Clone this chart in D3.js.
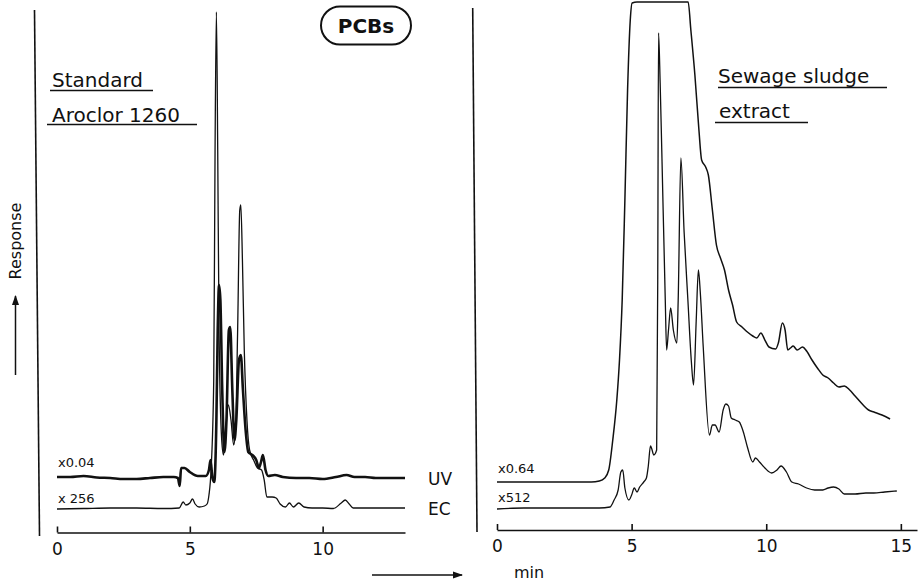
<!DOCTYPE html>
<html>
<head>
<meta charset="utf-8">
<title>PCBs</title>
<script src="https://d3js.org/d3.v7.min.js"></script>
<style>
  body { margin: 0; background: #fff; }
  text { font-family: "DejaVu Sans", sans-serif; fill: #111; }
</style>
</head>
<body>
<svg width="918" height="586"></svg>
<script>
// [retention time (min), response]
var stdUV = [[0,55],[0.5,55],[1,56],[1.5,54.5],[2,54],[2.5,53],[3,53],[3.5,54],[4,55],[4.4,55],[4.55,54],
  [4.62,46],[4.67,64],[4.8,64],[5,60],[5.3,56],[5.6,56],[5.72,62],[5.78,72],[5.85,54],[5.92,50],
  [6,112],[6.05,202],[6.1,247],[6.15,232],[6.22,142],[6.3,80],[6.38,112],[6.47,202],[6.52,205],
  [6.6,142],[6.68,92],[6.75,112],[6.85,172],[6.92,177],[7,142],[7.1,102],[7.2,80],[7.35,77],
  [7.5,72],[7.6,64],[7.68,70],[7.75,77],[7.85,62],[7.95,56],[8.2,57],[8.5,55],[9,54],[9.5,54],
  [10,53],[10.5,55],[10.9,57],[11.2,55],[11.6,55],[12,54],[12.5,54],[13.1,54]];

var stdEC = [[0,23],[1,23.5],[2,24],[3,24],[4,23.5],[4.6,24],[4.75,30],[4.85,27],[5,29],[5.1,33],
  [5.2,28],[5.35,25],[5.55,26],[5.65,28],[5.72,37],[5.8,62],[5.9,152],[5.95,382],[6,520],[6.05,382],
  [6.1,202],[6.2,92],[6.27,77],[6.35,102],[6.45,127],[6.55,112],[6.65,87],[6.72,102],[6.8,202],
  [6.88,322],[6.92,327],[6.98,272],[7.05,182],[7.15,112],[7.25,82],[7.4,72],[7.55,64],[7.7,62],
  [7.8,52],[7.9,35],[8.1,35],[8.25,34],[8.4,28],[8.6,25],[8.75,29],[8.9,25],[9.1,29],[9.3,25],
  [9.6,24],[10,24],[10.4,23.5],[10.7,29],[10.85,32],[11,28],[11.15,24],[12,24],[13.1,24]];

var sludgeUV = [[0,50],[1,50],[2,50],[3,50],[3.5,50],[3.8,51],[4,54],[4.15,62],[4.3,92],[4.45,132],
  [4.55,172],[4.65,232],[4.75,332],[4.85,442],[4.95,512],[5.02,529],[5.2,530],[7,530],[7.1,530],
  [7.2,502],[7.35,457],[7.5,402],[7.6,372],[7.75,365],[7.85,357],[8,322],[8.15,287],[8.3,274],
  [8.45,262],[8.6,242],[8.75,227],[8.9,210],[9.1,205],[9.3,200],[9.5,196],[9.65,194],[9.8,199],
  [9.95,192],[10.1,185],[10.35,183],[10.45,189],[10.6,209],[10.7,202],[10.8,182],[10.9,184],
  [11,186],[11.15,182],[11.35,185],[11.5,181],[11.7,172],[11.9,164],[12.1,157],[12.3,154],
  [12.5,149],[12.7,145],[12.9,146],[13.1,142],[13.3,136],[13.6,127],[13.8,122],[14,120],
  [14.3,117],[14.6,113]];

var sludgeEC = [[0,23],[1,24],[2,24],[3,24],[3.8,24],[4.2,25],[4.35,32],[4.5,42],[4.6,60],[4.67,62],
  [4.75,44],[4.9,32],[5,37],[5.1,44],[5.2,40],[5.3,45],[5.45,50],[5.55,54],[5.62,66],[5.7,86],
  [5.75,83],[5.82,77],[5.93,82],[5.97,250],[6,499],[6.06,449],[6.12,382],[6.25,232],[6.3,182],
  [6.37,202],[6.45,224],[6.55,202],[6.68,189],[6.73,232],[6.83,374],[6.95,300],[7.09,232],
  [7.22,170],[7.3,147],[7.4,212],[7.48,262],[7.55,240],[7.66,185],[7.89,97],[8,107],[8.1,107],
  [8.25,100],[8.4,122],[8.5,128],[8.6,126],[8.7,114],[8.85,112],[9,110],[9.15,100],[9.3,85],
  [9.5,70],[9.6,74],[9.75,70],[9.95,64],[10.2,59],[10.4,62],[10.55,66],[10.75,60],[10.95,50],
  [11.2,48],[11.5,44],[11.8,42],[12.1,42],[12.3,44],[12.5,45],[12.7,43],[12.9,38],[13.3,38],
  [13.7,39],[14,39],[14.4,40],[14.85,41]];

var stdTicks = [0, 5, 10];
var sludgeTicks = [0, 5, 10, 15];
var detectors = ["UV", "EC"];
var stdFactors = ["x0.04", "x 256"];
var sludgeFactors = ["x0.64", "x512"];

var svg = d3.select("svg");
var ink = "#111";

var defs = svg.append("defs");
defs.append("marker")
    .attr("id", "arrow")
    .attr("viewBox", "0 0 10 10")
    .attr("refX", 9).attr("refY", 5)
    .attr("markerWidth", 7).attr("markerHeight", 7)
    .attr("orient", "auto")
  .append("path")
    .attr("d", "M0,1.5L10,5L0,8.5Z")
    .attr("fill", ink);

var y = d3.scaleLinear().domain([0, 530]).range([532, 2]);

var xStd = d3.scaleLinear().domain([0, 13.1]).range([57, 405]);
var xSludge = d3.scaleLinear().domain([0, 15.6]).range([497, 917]);

function drawPanel(x, ticks, axisY, frame, traces) {
  var g = svg.append("g");

  // frame line on the left of the panel
  g.append("line")
      .attr("x1", frame[0]).attr("y1", frame[1])
      .attr("x2", frame[2]).attr("y2", frame[3])
      .attr("stroke", ink).attr("stroke-width", 1.6);

  var axis = g.append("g")
      .attr("transform", "translate(0," + axisY + ")")
      .call(d3.axisBottom(x).tickValues(ticks).tickSizeInner(-6).tickSizeOuter(0).tickPadding(10));
  axis.select(".domain").attr("stroke", ink).attr("stroke-width", 1.6);
  axis.selectAll(".tick line").attr("stroke", ink).attr("stroke-width", 1.6);
  axis.selectAll(".tick text")
      .attr("font-family", "DejaVu Sans, sans-serif")
      .attr("font-size", 17)
      .attr("fill", ink);

  traces.forEach(function(t) {
    var line = d3.line()
        .x(function(d) { return x(d[0]); })
        .y(function(d) { return y(d[1]); })
        .curve(d3.curveMonotoneX);
    g.append("path")
        .datum(t.data)
        .attr("fill", "none")
        .attr("stroke", ink)
        .attr("stroke-width", t.width)
        .attr("stroke-linejoin", "round")
        .attr("d", line);

    g.append("text")
        .attr("x", x(0) + 1)
        .attr("y", t.labelY)
        .attr("font-size", 13)
        .text(t.factor);
  });
  return g;
}

drawPanel(xStd, stdTicks, 532.5, [34.5, 10, 39.5, 536], [
  {data: stdUV, width: 2.6, factor: stdFactors[0], labelY: 467},
  {data: stdEC, width: 1.3, factor: stdFactors[1], labelY: 503}
]);

drawPanel(xSludge, sludgeTicks, 530, [472.7, 8, 477, 532], [
  {data: sludgeUV, width: 1.5, factor: sludgeFactors[0], labelY: 473},
  {data: sludgeEC, width: 1.3, factor: sludgeFactors[1], labelY: 502}
]);

// detector names at the end of the standard traces
svg.selectAll(".det")
  .data(detectors)
  .enter().append("text")
    .attr("class", "det")
    .attr("x", 428)
    .attr("y", function(d, i) { return i === 0 ? 485 : 515; })
    .attr("font-size", 17)
    .text(function(d) { return d; });

// underlined headings
function heading(str, x, yBase, u0, u1, uy) {
  svg.append("text")
      .attr("x", x).attr("y", yBase)
      .attr("font-size", 20)
      .text(str);
  svg.append("line")
      .attr("x1", u0).attr("x2", u1)
      .attr("y1", uy).attr("y2", uy)
      .attr("stroke", ink).attr("stroke-width", 1.5);
}
heading("Standard", 52, 87, 50, 153, 90.5);
heading("Aroclor 1260", 52, 122, 47, 197, 124.5);
heading("Sewage sludge", 718, 83, 718, 887, 87.5);
heading("extract", 719, 118, 715, 808, 122.5);

// PCBs badge
svg.append("rect")
    .attr("x", 321).attr("y", 6.5)
    .attr("width", 90).attr("height", 38)
    .attr("rx", 19)
    .attr("fill", "none")
    .attr("stroke", ink).attr("stroke-width", 2);
svg.append("text")
    .attr("x", 366).attr("y", 33)
    .attr("text-anchor", "middle")
    .attr("font-size", 20)
    .attr("font-weight", "bold")
    .text("PCBs");

// y label with arrow
svg.append("text")
    .attr("transform", "translate(21,241) rotate(-90)")
    .attr("text-anchor", "middle")
    .attr("font-size", 16)
    .text("Response");
svg.append("line")
    .attr("x1", 15.5).attr("y1", 375)
    .attr("x2", 15.5).attr("y2", 296)
    .attr("stroke", ink).attr("stroke-width", 1.5)
    .attr("marker-end", "url(#arrow)");

// x label with arrow
svg.append("line")
    .attr("x1", 372).attr("y1", 575)
    .attr("x2", 462).attr("y2", 575)
    .attr("stroke", ink).attr("stroke-width", 1.5)
    .attr("marker-end", "url(#arrow)");
svg.append("text")
    .attr("x", 514).attr("y", 578)
    .attr("font-size", 16)
    .text("min");
</script>
</body>
</html>
